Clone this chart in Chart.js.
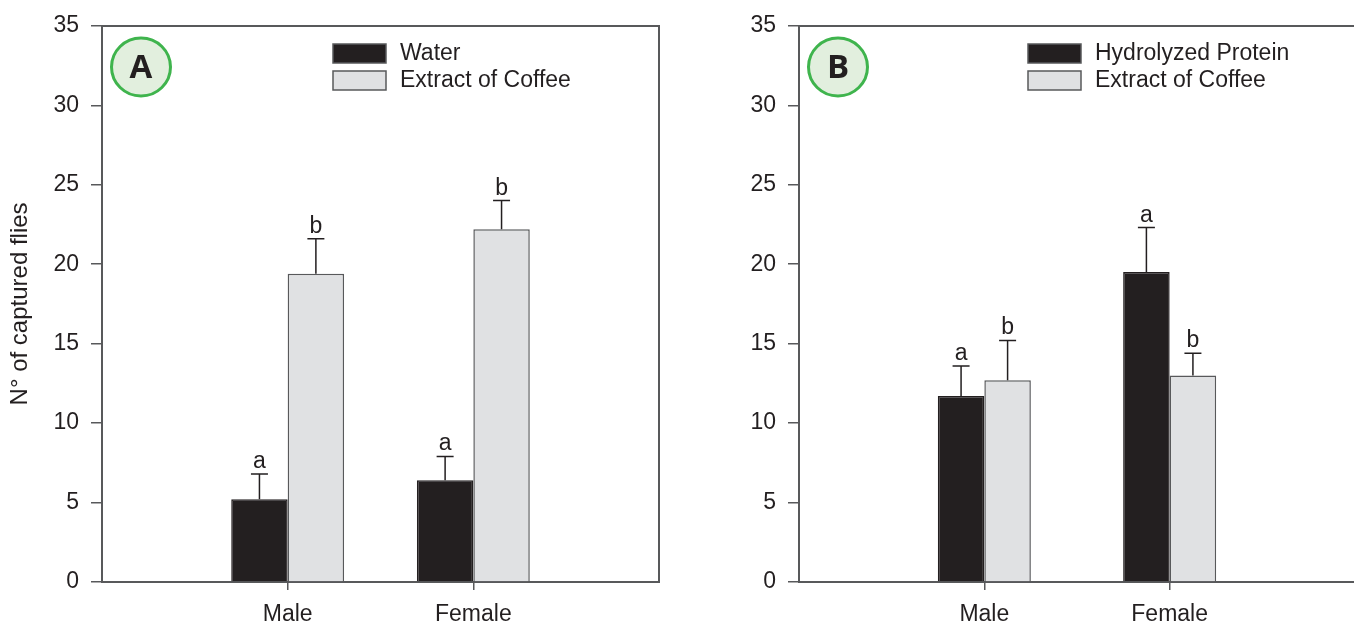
<!DOCTYPE html>
<html>
<head>
<meta charset="utf-8">
<script src="https://cdn.jsdelivr.net/npm/chart.js@4"></script>
<style>
  html, body { margin: 0; padding: 0; background: #fff; overflow: hidden; width: 1354px; height: 626px; }
  .wrap { position: absolute; top: 0; height: 626px; }
  #wa { left: 0; width: 700px; }
  #wb { left: 700px; width: 666px; }
  canvas { display: block; }
</style>
</head>
<body>
<div class="wrap" id="wa"><canvas id="chartA" width="700" height="626"></canvas></div>
<div class="wrap" id="wb"><canvas id="chartB" width="666" height="626"></canvas></div>
<script>
// ---- Data ----
const categories = ['Male', 'Female'];
const yTicks = [0, 5, 10, 15, 20, 25, 30, 35];

// Panel A
const waterA = [5.2, 6.4];
const waterASE = [1.6, 1.5];
const waterALetters = ['a', 'a'];
const coffeeA = [19.4, 22.2];
const coffeeASE = [2.2, 1.8];
const coffeeALetters = ['b', 'b'];

// Panel B
const proteinB = [11.7, 19.5];
const proteinBSE = [1.9, 2.8];
const proteinBLetters = ['a', 'a'];
const coffeeB = [12.7, 13.0];
const coffeeBSE = [2.5, 1.4];
const coffeeBLetters = ['b', 'b'];

const yTitle = 'N° of captured flies';

// ---- Styles ----
const AXIS = '#58595b';
const INK = '#231f20';
const DARK = '#231f20';
const LIGHT = '#e0e1e3';
const FONT = '"Liberation Sans", Arial, sans-serif';
const FS = 23;

Chart.defaults.font.family = FONT;
Chart.defaults.color = INK;
Chart.defaults.animation = false;

const pad = arr => [null, ...arr, null];
const labels = ['', ...categories, ''];

const errorBarPlugin = {
  id: 'errorBars',
  afterDatasetsDraw(chart) {
    const ctx = chart.ctx;
    const yScale = chart.scales.y;
    chart.data.datasets.forEach((ds, i) => {
      const meta = chart.getDatasetMeta(i);
      meta.data.forEach((el, j) => {
        const v = ds.data[j];
        if (v === null || v === undefined) return;
        const se = ds.se[j];
        const yTop = yScale.getPixelForValue(v + se);
        const x = el.x;
        ctx.save();
        ctx.strokeStyle = INK;
        ctx.lineWidth = 1.5;
        ctx.beginPath();
        ctx.moveTo(x, el.y);
        ctx.lineTo(x, yTop);
        ctx.moveTo(x - 8.5, yTop);
        ctx.lineTo(x + 8.5, yTop);
        ctx.stroke();
        ctx.fillStyle = INK;
        ctx.font = FS + 'px ' + FONT;
        ctx.textAlign = 'center';
        ctx.textBaseline = 'alphabetic';
        ctx.fillText(ds.letters[j], x, yTop - 6);
        ctx.restore();
      });
    });
  }
};

const legendBadgePlugin = {
  id: 'legendBadge',
  afterDraw(chart, args, opts) {
    const ctx = chart.ctx;
    const area = chart.chartArea;
    // badge
    ctx.save();
    ctx.beginPath();
    ctx.ellipse(area.left + opts.badgeDx, 67, 29.5, 29, 0, 0, Math.PI * 2);
    ctx.fillStyle = '#e2efde';
    ctx.fill();
    ctx.lineWidth = 3;
    ctx.strokeStyle = '#3fb44d';
    ctx.stroke();
    ctx.fillStyle = INK;
    ctx.font = 'bold 33px "Open Sans", "Noto Sans", sans-serif';
    ctx.textAlign = 'center';
    ctx.textBaseline = 'middle';
    ctx.fillText(opts.badge, area.left + opts.badgeDx, 69);
    ctx.restore();
    // legend
    const boxX = area.left + opts.legendDx;
    const rows = [44, 71];
    chart.data.datasets.forEach((ds, i) => {
      const y = rows[i];
      ctx.save();
      ctx.fillStyle = ds.backgroundColor;
      ctx.fillRect(boxX, y, 53, 19);
      ctx.lineWidth = 1.5;
      ctx.strokeStyle = AXIS;
      ctx.strokeRect(boxX, y, 53, 19);
      ctx.fillStyle = INK;
      ctx.font = FS + 'px ' + FONT;
      ctx.textAlign = 'left';
      ctx.textBaseline = 'middle';
      ctx.fillText(ds.label, boxX + 67, y + 10);
      ctx.restore();
    });
  }
};

function makeChart(canvasId, ds1, ds2, opts) {
  const tickColor = c => (c.index === 1 || c.index === 2) ? AXIS : 'rgba(0,0,0,0)';
  return new Chart(document.getElementById(canvasId), {
    type: 'bar',
    data: {
      labels: labels,
      datasets: [
        {
          label: ds1.label, data: pad(ds1.values), se: pad(ds1.se), letters: pad(ds1.letters),
          backgroundColor: DARK, borderColor: DARK, borderWidth: 1.5,
          categoryPercentage: opts.catPct, barPercentage: 1
        },
        {
          label: ds2.label, data: pad(ds2.values), se: pad(ds2.se), letters: pad(ds2.letters),
          backgroundColor: LIGHT, borderColor: AXIS, borderWidth: 1.5,
          categoryPercentage: opts.catPct, barPercentage: 1
        }
      ]
    },
    options: {
      responsive: false,
      maintainAspectRatio: false,
      layout: { padding: { top: 25, left: 0, right: opts.padRight, bottom: 0 } },
      plugins: {
        legend: { display: false },
        tooltip: { enabled: false },
        legendBadge: { badge: opts.badge, badgeDx: 39, legendDx: opts.legendDx }
      },
      scales: {
        x: {
          type: 'category',
          offset: false,
          grid: { display: true, offset: false, drawOnChartArea: false, drawTicks: true, tickLength: 8, color: tickColor, lineWidth: 1.5 },
          border: { display: true, color: AXIS, width: 2 },
          ticks: { autoSkip: false, maxRotation: 0, padding: 11, font: { size: FS }, color: INK },
          afterFit: s => { s.height = 44; }
        },
        xTop: {
          type: 'category', position: 'top', offset: false,
          grid: { display: false }, ticks: { display: false },
          border: { display: true, color: AXIS, width: 2 },
          afterFit: s => { s.height = 0; }
        },
        y: {
          min: 0, max: 35,
          afterBuildTicks: s => { s.ticks = yTicks.map(v => ({ value: v })); },
          grid: { display: true, drawOnChartArea: false, drawTicks: true, tickLength: 11, color: AXIS, lineWidth: 1.5 },
          border: { display: true, color: AXIS, width: 2 },
          ticks: { padding: 12, font: { size: FS }, color: INK },
          title: opts.title ? { display: true, text: yTitle, font: { size: 24 }, color: INK, padding: { top: 6, bottom: 0 } } : { display: false },
          afterFit: s => { s.width = opts.yWidth; }
        },
        yRight: {
          position: 'right', min: 0, max: 35,
          grid: { display: false }, ticks: { display: false },
          border: { display: true, color: AXIS, width: 2 },
          afterFit: s => { s.width = 0; }
        }
      }
    },
    plugins: [errorBarPlugin, legendBadgePlugin]
  });
}

makeChart('chartA',
  { label: 'Water', values: waterA, se: waterASE, letters: waterALetters },
  { label: 'Extract of Coffee', values: coffeeA, se: coffeeASE, letters: coffeeALetters },
  { badge: 'A', yWidth: 102, padRight: 41, catPct: 0.608, legendDx: 231, title: true });

makeChart('chartB',
  { label: 'Hydrolyzed Protein', values: proteinB, se: proteinBSE, letters: proteinBLetters },
  { label: 'Extract of Coffee', values: coffeeB, se: coffeeBSE, letters: coffeeBLetters },
  { badge: 'B', yWidth: 99, padRight: 0, catPct: 0.502, legendDx: 229, title: false });
</script>
</body>
</html>
